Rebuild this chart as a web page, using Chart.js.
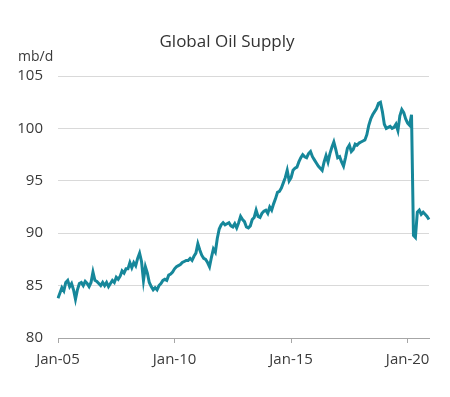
<!DOCTYPE html>
<html>
<head>
<meta charset="utf-8">
<script src="https://cdn.jsdelivr.net/npm/chart.js@4"></script>
<style>
  html, body { margin: 0; padding: 0; background: #fff; }
  #wrap { width: 450px; height: 397px; position: relative; }
</style>
</head>
<body>
<div id="wrap"><canvas id="oil"></canvas></div>
<script>
// --- data (mb/d, monthly Jan-05 .. Dec-20) ---
const years = ['05','06','07','08','09','10','11','12','13','14','15','16','17','18','19','20'];
const months = ['Jan','Feb','Mar','Apr','May','Jun','Jul','Aug','Sep','Oct','Nov','Dec'];

const supply = [
  // 2005
  83.8, 84.3, 84.8, 84.5, 85.3, 85.5, 84.9, 85.2, 84.6, 83.7, 84.6, 85.2,
  // 2006
  85.3, 85.0, 85.4, 85.2, 84.9, 85.3, 86.3, 85.5, 85.4, 85.2, 85.0, 85.3,
  // 2007
  85.0, 85.3, 84.9, 85.2, 85.5, 85.3, 85.8, 85.6, 85.9, 86.4, 86.2, 86.6,
  // 2008
  86.6, 87.2, 86.7, 87.2, 86.9, 87.6, 88.1, 87.3, 85.5, 86.8, 86.2, 85.3,
  // 2009
  84.9, 84.6, 84.8, 84.6, 85.0, 85.2, 85.5, 85.6, 85.5, 86.0, 86.1, 86.3,
  // 2010
  86.6, 86.8, 86.9, 87.0, 87.2, 87.3, 87.4, 87.4, 87.6, 87.4, 87.8, 88.1,
  // 2011
  89.0, 88.4, 87.9, 87.6, 87.5, 87.2, 86.8, 87.7, 88.5, 88.2, 89.5, 90.4,
  // 2012
  90.8, 91.0, 90.8, 90.9, 91.0, 90.7, 90.6, 90.9, 90.5, 91.0, 91.6, 91.3,
  // 2013
  91.1, 90.6, 90.5, 90.7, 91.3, 91.5, 92.2, 91.6, 91.5, 91.9, 92.1, 92.2,
  // 2014
  91.9, 92.5, 92.2, 92.8, 93.3, 93.9, 94.0, 94.3, 94.8, 95.3, 96.0, 95.0,
  // 2015
  95.3, 96.0, 96.2, 96.3, 96.8, 97.2, 97.5, 97.3, 97.2, 97.6, 97.8, 97.3,
  // 2016
  97.0, 96.7, 96.4, 96.2, 96.0, 96.8, 97.4, 96.8, 97.6, 98.2, 98.7, 98.0,
  // 2017
  97.2, 97.3, 96.8, 96.4, 97.2, 98.1, 98.4, 97.8, 98.0, 98.5, 98.4, 98.6,
  // 2018
  98.7, 98.8, 98.9, 99.4, 100.3, 100.9, 101.3, 101.6, 101.9, 102.4, 102.5, 101.6,
  // 2019
  100.4, 100.0, 100.1, 100.2, 100.0, 100.1, 100.4, 99.8, 101.2, 101.8, 101.5, 100.9,
  // 2020
  100.5, 100.3, 101.3, 89.8, 89.6, 92.0, 92.2, 91.8, 92.0, 91.8, 91.6, 91.3
];

const yTicks = [80, 85, 90, 95, 100, 105];
const shownLabels = ['Jan-05', 'Jan-10', 'Jan-15', 'Jan-20'];

// category labels, one per month
const labels = [];
years.forEach(y => months.forEach(m => labels.push(m + '-' + y)));

const FONT = '"Open Sans", "Noto Sans", sans-serif';
const TXT = '#3a3a3a';

// titel + einheit oben links
const headerText = {
  id: 'headerText',
  afterDraw(chart) {
    const c = chart.ctx;
    c.save();
    c.fillStyle = '#333';
    c.textBaseline = 'alphabetic';
    c.textAlign = 'center';
    c.font = '17px ' + FONT;
    c.fillText('Global Oil Supply', 227, 47);
    c.textAlign = 'left';
    c.font = '14px ' + FONT;
    c.fillStyle = TXT;
    c.fillText('mb/d', 18, 61);
    c.restore();
  }
};

const ctx = document.getElementById('oil').getContext('2d');
new Chart(ctx, {
  type: 'line',
  data: {
    labels: labels,
    datasets: [{
      data: supply,
      borderColor: '#16879a',
      borderWidth: 3,
      pointRadius: 0,
      tension: 0,
      fill: false
    }]
  },
  options: {
    responsive: true,
    maintainAspectRatio: false,
    animation: false,
    layout: { padding: { top: 76, right: 21, bottom: 0, left: 0 } },
    plugins: { legend: { display: false }, tooltip: { enabled: false }, title: { display: false } },
    scales: {
      x: {
        type: 'category',
        offset: false,
        afterFit: s => { s.height = 59; },
        border: { display: true, color: '#a6a6a6', width: 1 },
        grid: { drawOnChartArea: false, drawTicks: true, tickLength: 5, color: '#a6a6a6' },
        ticks: {
          autoSkip: false,
          maxRotation: 0,
          padding: 8,
          color: TXT,
          font: { family: FONT, size: 15 },
          callback: function (v, i) {
            const l = this.getLabelForValue(v);
            return shownLabels.includes(l) ? l : null;
          }
        }
      },
      y: {
        min: 80,
        max: 105,
        afterFit: s => { s.width = 58; },
        afterBuildTicks: s => { s.ticks = yTicks.map(v => ({ value: v })); },
        border: { display: false },
        grid: { color: '#d9d9d9', drawTicks: false, lineWidth: 1 },
        ticks: { padding: 15, color: TXT, font: { family: FONT, size: 15 } }
      }
    }
  },
  plugins: [headerText]
});
</script>
</body>
</html>
